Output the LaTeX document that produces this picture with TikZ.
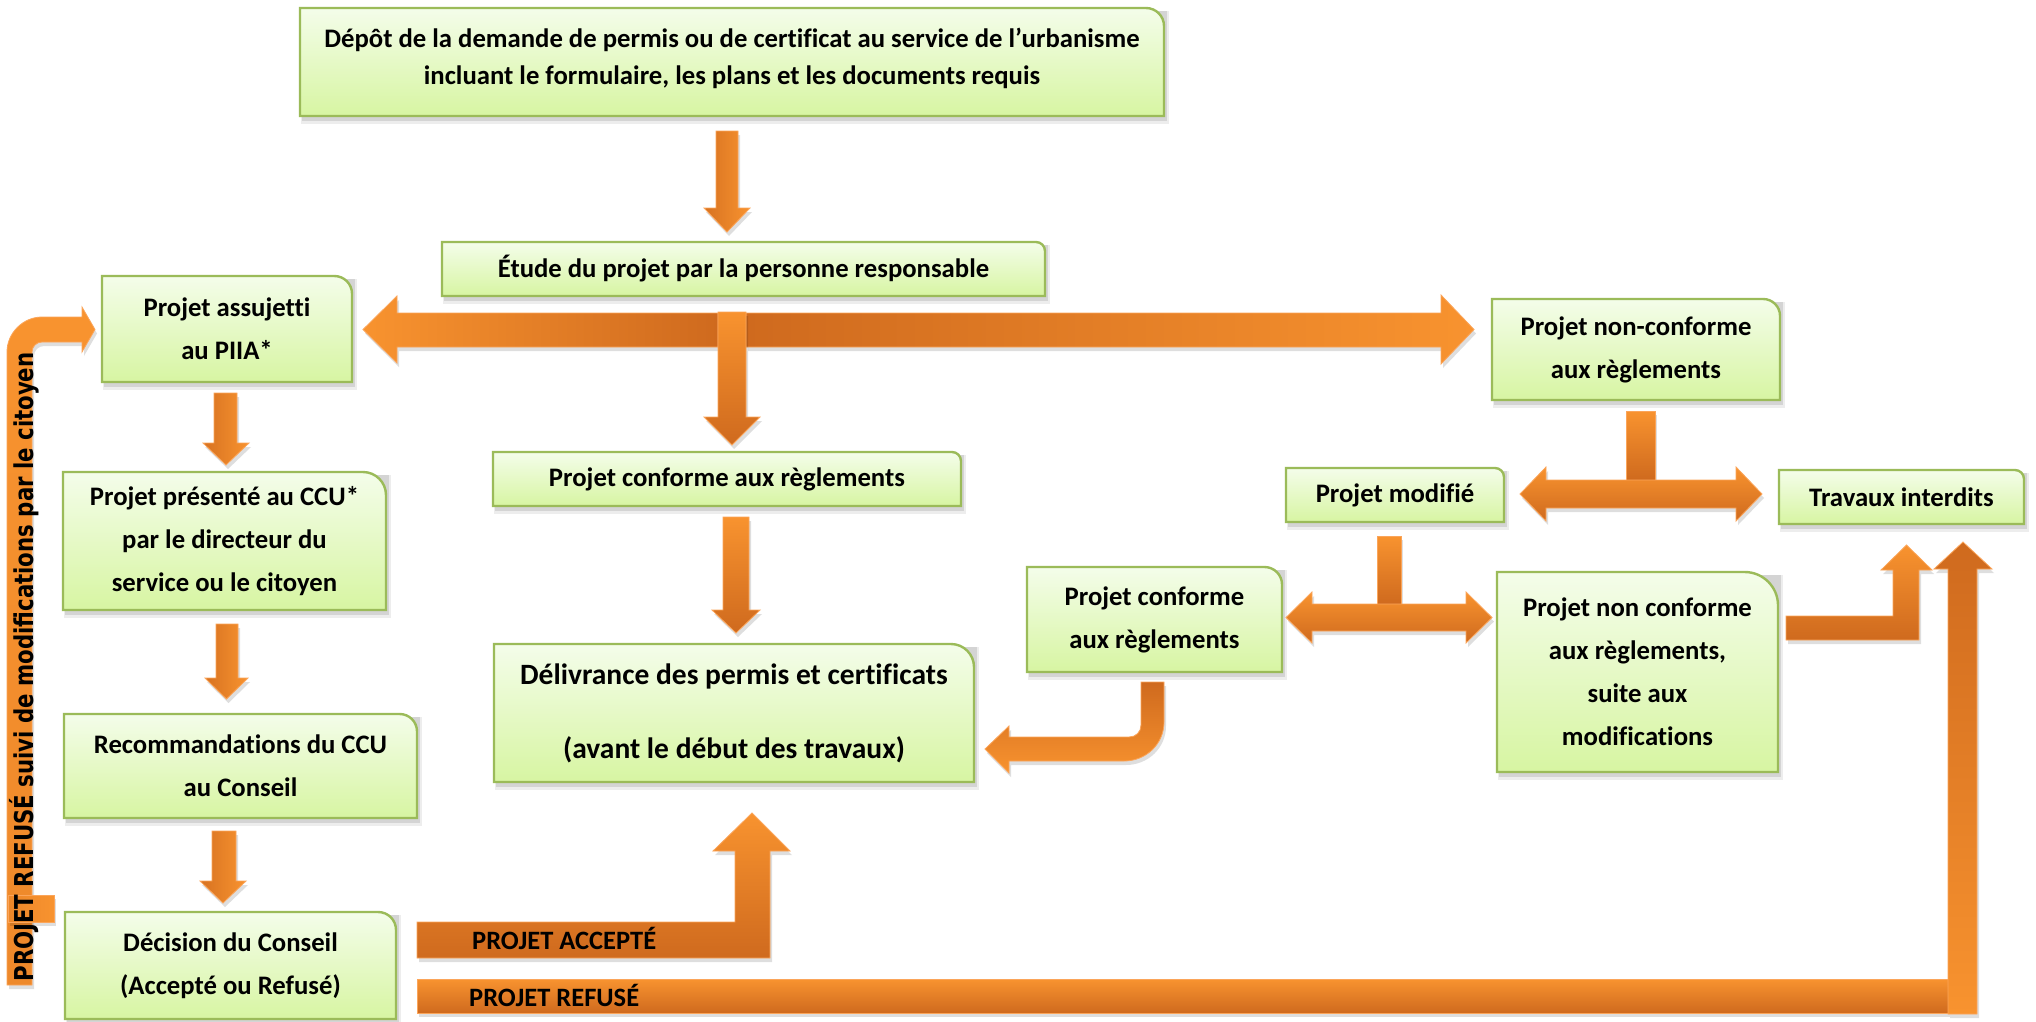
\documentclass[tikz,border=0pt]{standalone}
\usepackage{graphicx}
\usepackage{fontspec}
\setmainfont{Carlito}[Ligatures=NoCommon]
\newfontfamily\vfont{DejaVu Sans}
\definecolor{orL}{HTML}{F8932F}
\definecolor{orD}{HTML}{CF6A1E}
\definecolor{orE}{HTML}{FBA55A}
\definecolor{gB}{HTML}{9BBB59}
\definecolor{gT}{HTML}{F4FDEA}
\definecolor{gU}{HTML}{D7F5A2}
\newcommand\gbox[7]{%
  \pgfmathsetmacro\rr{0.1667*min(#4-#2,#5-#3)}%
  \pgfmathsetmacro\kk{0.4477*\rr}%
  \fill[black,opacity=0.07] (#2+1,#3+3) rectangle (#4+5,#5+8);
  \fill[black,opacity=0.10] (#2+2,#3+3) rectangle (#4+3,#5+5);
  \shadedraw[top color=gT,bottom color=gU,draw=gB,line width=2.4pt] (#2,#5) -- (#2,#3) -- ({#4-\rr},#3) .. controls ({#4-\kk},#3) and (#4,{#3+\kk}) .. (#4,{#3+\rr}) -- (#4,#5) -- cycle;
  \node[boxtxt,#6] (#1) at ({(#2+#4)/2},{(#3+#5)/2}) {#7};
}
\newcommand\blk[2]{%
  \fill[black,opacity=0.13,shift={(2,4)}] #2;
  \shadedraw[#1,draw=orE,line width=0.8pt] #2;
}
\newcommand\dnarrow[8]{% sx1 sx2 y0 hy hx1 hx2 tipy shading
  \blk{#8}{(#1,#3) -- (#2,#3) -- (#2,#4) -- (#6,#4) -- ({(#5+#6)/2},#7) -- (#5,#4) -- (#1,#4) -- cycle}
}
\begin{document}
\begin{tikzpicture}[x=1pt,y=-1pt,
  boxtxt/.style={align=center,inner sep=0pt,text=black},
  t26/.style={font=\bfseries\fontsize{26.7}{43}\selectfont},
  t26a/.style={font=\bfseries\fontsize{26.7}{37}\selectfont,yshift=3.5pt},
  t29/.style={font=\bfseries\fontsize{29.5}{74}\selectfont},
  lbl/.style={font=\bfseries\fontsize{26.5}{30}\selectfont,inner sep=0pt,anchor=base west,text=black}]
\fill[white] (0,0) rectangle (2036,1021);
\useasboundingbox (0,0) rectangle (2036,1021);

% boxes
\gbox{depot}{300}{8}{1164}{116}{t26a}{Dépôt de la demande de permis ou de certificat au service de l’urbanisme\\incluant le formulaire, les plans et les documents requis}
\gbox{etude}{442}{242}{1045}{296}{t26}{Étude du projet par la personne responsable}
\gbox{piia}{102}{276}{352}{382}{t26}{Projet assujetti\\au PIIA*}
\gbox{ccu}{63}{472}{386}{610}{t26}{Projet présenté au CCU*\\par le directeur du\\service ou le citoyen}
\gbox{recom}{64}{714}{417}{818}{t26}{Recommandations du CCU\\au Conseil}
\gbox{decision}{65}{912}{396}{1019}{t26}{Décision du Conseil\\(Accepté ou Refusé)}
\gbox{conforme}{493}{452}{961}{506}{t26}{Projet conforme aux règlements}
\gbox{delivrance}{494}{644}{974}{782}{t29}{Délivrance des permis et certificats\\(avant le début des travaux)}
\gbox{nonconf}{1492}{299}{1780}{400}{t26}{Projet non-conforme\\aux règlements}
\gbox{modifie}{1286}{468}{1504}{522}{t26}{Projet modifié}
\gbox{interdits}{1779}{470}{2024}{524}{t26}{Travaux interdits}
\gbox{conf2}{1027}{567}{1282}{672}{t26}{Projet conforme\\aux règlements}
\gbox{nonconf2}{1497}{572}{1778}{772}{t26}{Projet non conforme\\aux règlements,\\suite aux\\modifications}

% simple down arrows
\dnarrow{716}{738}{131}{208}{704}{750}{232}{left color=orD!80!orL,right color=orL}
\dnarrow{214}{237}{393}{443}{203}{249}{465}{left color=orD!80!orL,right color=orL}
\dnarrow{216}{238}{624}{678}{205}{248}{699}{left color=orD!80!orL,right color=orL}
\dnarrow{212}{236}{831}{881}{200}{246}{903}{left color=orD!80!orL,right color=orL}
\dnarrow{723}{749}{517}{610}{712}{760}{633}{top color=orL,bottom color=orD}

% horizontal arrows from etude
\blk{left color=orL,right color=orD}{(718,313) -- (397,313) -- (397,296) -- (363,329.5) -- (397,363) -- (397,347) -- (718,347) -- cycle}
\blk{left color=orD,right color=orL}{(746,313) -- (1441,313) -- (1441,295) -- (1474,329.5) -- (1441,364) -- (1441,347) -- (746,347) -- cycle}
\dnarrow{718}{746}{312}{417}{704}{760}{445}{top color=orL,bottom color=orD}

% nonconf -> modifie / interdits
\blk{top color=orL,bottom color=orD}{(1626,411) rectangle (1655,480)}
\blk{top color=orL,bottom color=orD}{(1546,480) -- (1736,480) -- (1736,467) -- (1762,494) -- (1736,521) -- (1736,508) -- (1546,508) -- (1546,521) -- (1520,494) -- (1546,467) -- cycle}

% modifie -> conf2 / nonconf2
\blk{top color=orL,bottom color=orD}{(1377,536) rectangle (1401,604)}
\blk{top color=orL,bottom color=orD}{(1312,604) -- (1466,604) -- (1466,592) -- (1492,617.5) -- (1466,643) -- (1466,631) -- (1312,631) -- (1312,643) -- (1286,617.5) -- (1312,592) -- cycle}

% conf2 -> delivrance
\blk{top color=orD,bottom color=orL}{(1141,682) -- (1164,682) -- (1164,722) .. controls (1164,744) and (1146,761) .. (1124,761) -- (1009,761) -- (1009,773) -- (985,749) -- (1009,726) -- (1009,737) -- (1129,737) .. controls (1136,737) and (1141,732) .. (1141,725) -- cycle}

% nonconf2 -> interdits
\blk{top color=orL,bottom color=orD}{(1786,616) -- (1893,616) -- (1893,570) -- (1881,570) -- (1906.5,545) -- (1932,570) -- (1919,570) -- (1919,640) -- (1786,640) -- cycle}

% projet refuse
\blk{top color=orL,bottom color=orD}{(417,979) rectangle (1948,1013)}
\blk{top color=orD,bottom color=orL}{(1948,1014) -- (1948,569) -- (1934,569) -- (1963,542) -- (1992,569) -- (1977,569) -- (1977,1014) -- cycle}
\node[lbl] (refuse) at (469,1006) {PROJET REFUSÉ};

% projet accepte
\blk{top color=orL,bottom color=orD}{(417,922) -- (735,922) -- (735,851) -- (713,851) -- (752,813) -- (790,851) -- (770,851) -- (770,958) -- (417,958) -- cycle}
\node[lbl] (accepte) at (472,949) {PROJET ACCEPTÉ};

% feedback arrow
\blk{top color=orL,bottom color=orL!75!orD}{(7,985) -- (7,352) .. controls (7,333) and (23,317) .. (42,317) -- (82,317) -- (82,307) -- (95,329.5) -- (82,352) -- (82,342) -- (42,342) .. controls (36.5,342) and (32,346.5) .. (32,352) -- (32,985) -- cycle}
\blk{left color=orL!70!orD,right color=orL}{(8,895) rectangle (54,922)}
\node[rotate=90,anchor=base,inner sep=0pt,text=black,font=\vfont\bfseries\fontsize{26}{30}\selectfont] (feedback) at (33,667) {\scalebox{0.818}[1]{PROJET REFUSÉ suivi de modifications par le citoyen}};
\end{tikzpicture}
\end{document}
